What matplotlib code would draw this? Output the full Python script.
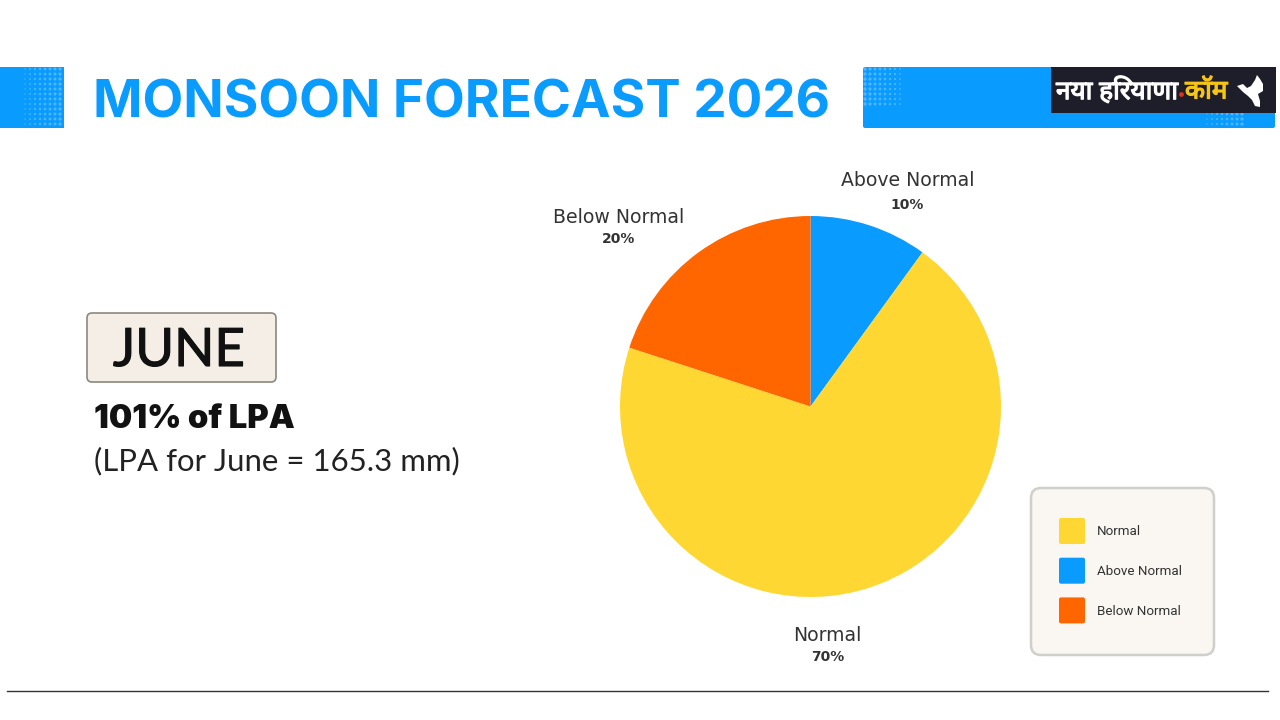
import numpy as np
import matplotlib
matplotlib.use("Agg")
import matplotlib.pyplot as plt
import matplotlib.patheffects as pe
from matplotlib.patches import FancyBboxPatch, Rectangle, Polygon

# pie data
pie_labels = ["Above Normal", "Normal", "Below Normal"]
pie_values = [10, 70, 20]
pie_colors = ["#0A9BFF", "#FFD733", "#FF6600"]

legend_labels = ["Normal", "Above Normal", "Below Normal"]
legend_colors = ["#FFD733", "#0A9BFF", "#FF6600"]

BLUE = "#0A9BFF"
W, H = 1280, 720

fig = plt.figure(figsize=(W / 100, H / 100), dpi=100, facecolor="white")

# background axes in pixel coordinates for the slide furniture
bg = fig.add_axes([0, 0, 1, 1])
bg.set_xlim(0, W)
bg.set_ylim(H, 0)
bg.axis("off")


def rbox(x0, y0, x1, y1, r, fc, ec="none", lw=0, z=1):
    p = FancyBboxPatch((x0 + r, y0 + r), x1 - x0 - 2 * r, y1 - y0 - 2 * r,
                       boxstyle="round,pad=%g,rounding_size=%g" % (r, r),
                       fc=fc, ec=ec, lw=lw, zorder=z)
    bg.add_patch(p)


def dots(x0, x1, y0, y1, fade_left=True):
    xs = np.arange(x0, x1, 5.0)
    ys = np.arange(y0, y1, 5.0)
    gx, gy = np.meshgrid(xs, ys)
    if fade_left:
        a = (gx - x0) / (x1 - x0)
    else:
        a = 1 - (gx - x0) / (x1 - x0)
    bg.scatter(gx.ravel(), gy.ravel(), s=(1 + 5 * a.ravel()),
               c="white", alpha=0.28, lw=0, zorder=2)


# header bands
bg.add_patch(Rectangle((0, 67), 64, 61, fc=BLUE, ec="none"))
dots(25, 64, 69, 126)
rbox(863, 67, 1275, 128, 2, BLUE)
dots(865, 905, 69, 105, fade_left=False)
dots(1207, 1246, 114, 127)

bg.text(93, 99, "MONSOON FORECAST 2026", color=BLUE, fontsize=38.2,
        family="Inter", weight="bold", va="center_baseline", ha="left")

# logo block
bg.add_patch(Rectangle((1051, 67), 225, 46, fc="#1D1E2A", ec="none", zorder=3))
thick_w = [pe.withStroke(linewidth=0.9, foreground="white")]
thick_y = [pe.withStroke(linewidth=0.9, foreground="#F5C518")]
# no shaping in matplotlib, so the i-matra goes before ra to land where it reads
bg.text(1056, 92, "नया हिरयाणा", color="white", fontsize=18.8,
        family=["Noto Sans", "DejaVu Sans"], weight="bold", va="center",
        zorder=4, path_effects=thick_w)
bg.scatter([1181], [94], s=12, c="#E0301E", lw=0, zorder=5)
bg.text(1185, 92, "कॉम", color="#F5C518", fontsize=18.8,
        family=["Noto Sans", "DejaVu Sans"], weight="bold", va="center",
        zorder=4, path_effects=thick_y)
# Haryana outline in the logo
bg.add_patch(Polygon([(1237, 86), (1243, 84), (1247, 88), (1251, 86), (1255, 80),
                      (1257, 75), (1260, 79), (1263, 84), (1263, 91), (1258, 94),
                      (1260, 101), (1260, 107), (1255, 106), (1252, 100),
                      (1248, 96), (1243, 92)], fc="white", ec="none", zorder=4))

# june box and text
rbox(87, 313, 276, 382, 5, "#F5EEE6", ec="#8C8780", lw=1.2)
bg.text(179, 347, "JUNE", fontsize=38, family="Lato", color="#111111",
        ha="center", va="center_baseline",
        path_effects=[pe.withStroke(linewidth=0.8, foreground="#111111")])
bg.text(94, 416, "101% of LPA", fontsize=23.6, family="Inter", weight="black",
        color="#111111", ha="left", va="center_baseline")
bg.text(94, 459, "(LPA for June = 165.3 mm)", fontsize=22.4, family="Lato",
        color="#222222", ha="left", va="center_baseline")

# pie
cx, cy, rad = 810.5, 406.5, 190.5
ax = fig.add_axes([(cx - rad) / W, 1 - (cy + rad) / H, 2 * rad / W, 2 * rad / H])
ax.pie(pie_values, colors=pie_colors, startangle=90, counterclock=False, radius=1,
       wedgeprops={"lw": 0})
ax.set_xlim(-1, 1)
ax.set_ylim(-1, 1)

# pie captions
caption_pos = {"Above Normal": (907.5, 180.5, 205), "Normal": (827.5, 635.5, 657),
               "Below Normal": (619, 217.5, 239)}
for lab, val in zip(pie_labels, pie_values):
    x, y1, y2 = caption_pos[lab]
    bg.text(x, y1, lab, fontsize=13.6, family="DejaVu Sans", color="#333333",
            ha="center", va="center")
    bg.text(x, y2, "%d%%" % val, fontsize=10, family="DejaVu Sans", weight="bold",
            color="#333333", ha="center", va="center")

# legend card
rbox(1031, 488, 1214, 655, 10, "#FAF6F1", ec="#CFCFCB", lw=1.8)
for i, (lab, col) in enumerate(zip(legend_labels, legend_colors)):
    y = 531 + i * 39.7
    rbox(1059, y - 13, 1085, y + 13, 2, col, z=3)
    bg.text(1097, y + 0.8, lab, fontsize=9.6, family="Roboto", color="#333333",
            ha="left", va="center", zorder=3)

# bottom rule
bg.plot([7, 1268], [691, 691], color="#333333", lw=1)

fig.savefig("out.png", dpi=100)
